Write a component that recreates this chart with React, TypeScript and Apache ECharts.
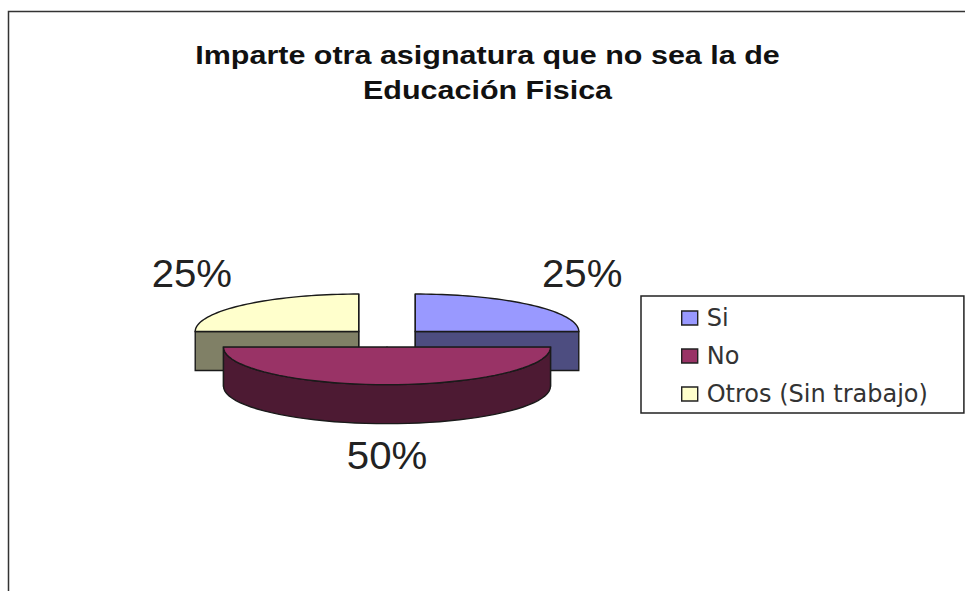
import React, { useEffect, useRef } from "react";
import * as echarts from "echarts";

const titleLines = ["Imparte otra asignatura que no sea la de", "Educación Fisica"];
const categories = ["Si", "No", "Otros (Sin trabajo)"];
const values = [25, 50, 25];
const topColors = ["#9999FF", "#993366", "#FFFFCC"];
const sideColors = ["#4D4D80", "#4D1A33", "#808066"];

const CX = 387;
const CY = 338;
const RX = 163.5;
const RY = 37.5;
const DEPTH = 39;
const EXPLODE = 40;
const STROKE = "#1a1a1a";

const total = values.reduce((a, b) => a + b, 0);
const starts = values.map((_, i) => values.slice(0, i).reduce((a, b) => a + b, 0));

function renderSlice(index: number) {
  return () => {
    const a0 = (starts[index] / total) * Math.PI * 2;
    const a1 = ((starts[index] + values[index]) / total) * Math.PI * 2;
    const mid = (a0 + a1) / 2;
    const k = RY / RX;
    const cx = CX + Math.sin(mid) * EXPLODE;
    const cy = CY - Math.cos(mid) * EXPLODE * k;
    const pt = (a: number, dy = 0): number[] => [
      cx + Math.sin(a) * RX,
      cy - Math.cos(a) * RY + dy,
    ];
    const steps = 48;
    const arc: number[][] = [];
    for (let s = 0; s <= steps; s++) arc.push(pt(a0 + ((a1 - a0) * s) / steps));

    const lo = Math.max(a0, Math.PI / 2);
    const hi = Math.min(a1, (Math.PI * 3) / 2);
    const children: any[] = [];
    const style = (fill: string) => ({ fill, stroke: STROKE, lineWidth: 1.4 });

    [a0, a1].forEach((a) => {
      const p = pt(a);
      const wall = [[cx, cy], p, pt(a, DEPTH), [cx, cy + DEPTH]];
      children.push({ type: "polygon", shape: { points: wall }, style: style(sideColors[index]) });
    });
    if (hi > lo) {
      const upper: number[][] = [];
      const lower: number[][] = [];
      for (let s = 0; s <= steps; s++) {
        const a = lo + ((hi - lo) * s) / steps;
        upper.push(pt(a));
        lower.push(pt(a, DEPTH));
      }
      children.push({
        type: "polygon",
        shape: { points: upper.concat(lower.reverse()) },
        style: style(sideColors[index]),
      });
    }
    children.push({
      type: "polygon",
      shape: { points: [[cx, cy], ...arc] },
      style: style(topColors[index]),
    });

    const cos = Math.cos(mid);
    children.push({
      type: "text",
      x: cx + Math.sin(mid) * 236,
      y: cy - cos * 83 + (cos < 0 ? 25 : 0),
      scaleX: 1.03,
      style: {
        x: 0,
        y: 0,
        text: `${Math.round((values[index] / total) * 100)}%`,
        fill: "#222",
        font: '39px "Liberation Sans", Arial, sans-serif',
        align: "center",
        verticalAlign: "middle",
      },
    });
    return { type: "group", children };
  };
}

export default function App() {
  const ref = useRef<HTMLDivElement>(null);
  useEffect(() => {
    const chart = echarts.init(ref.current!, null, { renderer: "svg" });
    chart.setOption({
      animation: false,
      backgroundColor: "#fff",
      legend: {
        data: categories,
        left: 641,
        top: 296,
        orient: "vertical",
        icon: "rect",
        itemWidth: 16,
        itemHeight: 14,
        itemGap: 14,
        padding: [10, 36, 7, 40],
        backgroundColor: "#fff",
        borderColor: "#222",
        borderWidth: 1.5,
        borderRadius: 0,
        itemStyle: { borderColor: "#222", borderWidth: 1.4 },
        selectedMode: false,
        textStyle: {
          fontFamily: '"DejaVu Sans", sans-serif',
          fontSize: 24,
          lineHeight: 20,
          color: "#333",
          padding: [0, 0, 0, 4],
        },
      },
      graphic: [
        {
          type: "polyline",
          silent: true,
          shape: { points: [[8.5, 591], [8.5, 11.5], [965, 11.5]] },
          style: { fill: "none", stroke: "#333", lineWidth: 1.5 },
        },
        {
          type: "text",
          silent: true,
          x: 487.5,
          y: 38,
          scaleX: 1.22,
          style: {
            x: 0,
            y: 0,
            text: titleLines.join("\n"),
            align: "center",
            fill: "#111",
            font: 'bold 25px "Liberation Sans", Arial, sans-serif',
            lineHeight: 35,
          },
        },
      ],
      series: categories.map((name, i) => ({
        type: "custom",
        name,
        coordinateSystem: "none",
        data: [values[i]],
        z: i === 1 ? 4 : 3,
        itemStyle: { color: topColors[i] },
        renderItem: renderSlice(i),
      })),
    });
    return () => chart.dispose();
  }, []);
  return <div ref={ref} style={{ position: "absolute", left: 0, top: 0, width: 965, height: 591 }} />;
}
